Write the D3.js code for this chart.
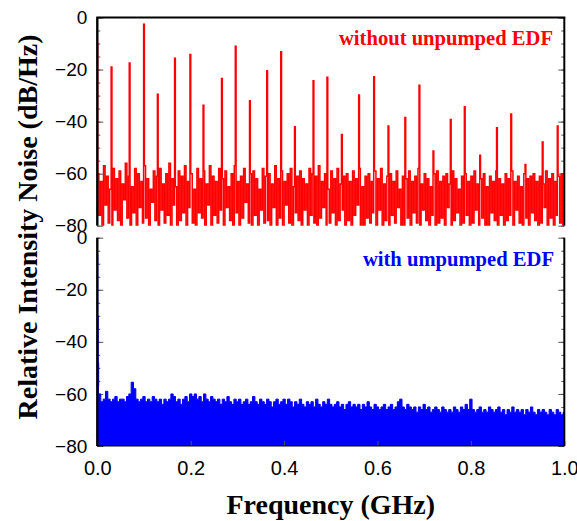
<!DOCTYPE html>
<html>
<head>
<meta charset="utf-8">
<script src="https://cdn.jsdelivr.net/npm/d3@7"></script>
<style>
  body { margin: 0; background: #fff; }
  svg { display: block; font-family: "Liberation Serif", "Times New Roman", serif; }
  .tick line { stroke: #555; }
  .domain { display: none; }
</style>
</head>
<body>
<div id="chart"></div>
<script>
// peaks of the top trace (without unpumped EDF), GHz / dB/Hz
const redPeakFreq = [0, 0.031, 0.0685, 0.100, 0.129, 0.166, 0.1985, 0.228, 0.267, 0.296, 0.327, 0.364, 0.394, 0.423, 0.4625, 0.492, 0.524, 0.561, 0.592, 0.6235, 0.659, 0.6895, 0.7195, 0.757, 0.787, 0.8195, 0.855, 0.886, 0.917, 0.954, 0.985]
const redPeakLevel = [-10, -19, -17.5, -2.6, -29.5, -15.7, -14.2, -33.7, -23.4, -11, -32, -20.5, -13.2, -42, -24.3, -23, -45, -29.8, -22.8, -41.7, -38.4, -26, -51.3, -39.2, -34.3, -52.9, -42.4, -37.1, -56.5, -47.8, -41.7]

// noise floor of the top trace, tops and bottoms
const redNoiseTop = [
  -60, -63, -57, -61, -66, -58, -62, -59, -64, -56,
  -61, -65, -58, -60, -63, -57, -62, -66, -59, -61,
  -58, -64, -60, -56, -62, -65, -59, -61, -57, -63,
  -60, -66, -58, -62, -59, -64, -57, -61, -63, -58,
  -62, -59, -65, -60, -57, -63, -61, -58, -64, -60,
  -59, -62, -66, -58, -61, -60, -64, -57, -62, -59,
  -63, -60, -58, -65, -61, -59, -62, -64, -58, -60,
  -61, -57, -63, -60, -66, -59, -62, -58, -64, -61,
  -60, -63, -59, -62, -58, -65, -61, -60, -63, -59,
  -62, -58, -64, -61, -60, -63, -59, -66, -61, -62,
  -59, -63, -61, -58, -64, -60, -62, -65, -60, -59,
  -63, -61, -60, -64, -59, -62, -66, -61, -60, -63,
  -61, -59, -64, -62, -60, -65, -61, -63, -59, -62,
  -64, -60, -62, -59, -63, -61, -65, -60, -62, -61,
  -60, -63, -61, -64, -59, -62, -60, -63, -61, -60
]
const redNoiseBottom = [
  -76, -80, -72, -79, -82, -74, -78, -81, -70, -77,
  -80, -75, -82, -73, -79, -77, -81, -71, -78, -83,
  -74, -79, -76, -82, -72, -80, -78, -75, -81, -73,
  -79, -83, -75, -77, -80, -72, -82, -76, -79, -74,
  -81, -73, -78, -80, -75, -82, -77, -71, -79, -80,
  -76, -82, -74, -79, -78, -81, -73, -80, -77, -83,
  -72, -79, -81, -75, -78, -80, -74, -82, -76, -79,
  -80, -77, -73, -81, -79, -75, -82, -78, -74, -80,
  -78, -81, -76, -72, -80, -83, -77, -79, -75, -81,
  -74, -80, -78, -82, -76, -79, -73, -81, -80, -77,
  -82, -75, -79, -80, -74, -78, -81, -76, -83, -79,
  -77, -80, -73, -81, -78, -75, -82, -79, -76, -80,
  -79, -74, -81, -77, -80, -83, -75, -78, -82, -76,
  -80, -78, -76, -81, -74, -79, -82, -77, -80, -75,
  -78, -81, -79, -73, -80, -77, -82, -76, -79, -81
]

// bottom trace (with unpumped EDF): sharp roll-off near 0, then noise envelope every 5 MHz
const blueHeadFreq = [0, 0.001, 0.002, 0.003]
const blueHeadLevel = [-6.5, -30, -48, -57]
const blueEnvelope = [
  -60, -63, -62, -59, -62, -63, -62, -61, -63, -62,
  -62, -63, -61, -60, -55.5, -58, -62, -63, -62, -61,
  -63, -62, -63, -61, -62, -63, -62, -64, -62, -63,
  -62, -60, -61, -63, -62, -64, -62, -61, -63, -60,
  -61, -60, -62, -61, -63, -60, -62, -63, -61, -62,
  -63, -62, -64, -62, -63, -61, -63, -64, -62, -63,
  -62, -64, -63, -62, -64, -63, -61, -63, -64, -62,
  -63, -64, -62, -63, -65, -63, -62, -64, -63, -62,
  -64, -62, -63, -65, -63, -64, -62, -64, -65, -63,
  -64, -63, -65, -62, -64, -65, -63, -64, -62, -64,
  -65, -64, -63, -65, -64, -66, -64, -63, -65, -64,
  -65, -64, -66, -64, -65, -63, -65, -66, -64, -65,
  -66, -65, -64, -66, -65, -64, -66, -65, -63, -62,
  -65, -66, -64, -65, -66, -65, -67, -65, -66, -64,
  -66, -65, -67, -66, -65, -66, -67, -65, -66, -67,
  -66, -67, -65, -66, -67, -65, -66, -64, -66, -62,
  -66, -67, -66, -65, -67, -66, -67, -65, -66, -67,
  -66, -65, -67, -66, -68, -66, -67, -65, -67, -66,
  -67, -66, -68, -66, -67, -65, -67, -68, -66, -67,
  -66, -67, -68, -66, -67, -68, -66, -67, -68, -67
]

const yTicks = [0, -20, -40, -60, -80]
const xTicks = [0, 0.2, 0.4, 0.6, 0.8, 1.0]

const width = 577, height = 521
const left = 97.3, right = 564.3
const topPanel = [17.5, 225.7], bottomPanel = [237.7, 446]

const svg = d3.select("#chart").append("svg")
    .attr("width", width)
    .attr("height", height)

var x = d3.scaleLinear().domain([0, 1]).range([left, right])

function panel(name, extent) {
    var y = d3.scaleLinear().domain([-80, 0]).range([extent[1], extent[0]])
    var g = svg.append("g")
    g.append("clipPath").attr("id", "clip_" + name)
        .append("rect")
        .attr("x", left).attr("y", extent[0])
        .attr("width", right - left).attr("height", extent[1] - extent[0])

    // minor ticks every 5 dB
    g.append("g").attr("transform", "translate(" + left + ",0)")
        .call(d3.axisLeft(y).tickValues(d3.range(-80, 1, 5)).tickSize(-3).tickFormat(""))
    g.append("g").attr("transform", "translate(" + right + ",0)")
        .call(d3.axisRight(y).tickValues(d3.range(-80, 1, 5)).tickSize(-3).tickFormat(""))
    g.append("g").attr("transform", "translate(" + left + ",0)")
        .call(d3.axisLeft(y).tickValues(yTicks).tickSize(-6).tickPadding(10).tickFormat(d3.format("d")))
        .call(s => s.selectAll("text").attr("font-size", 19).attr("fill", "#000"))
    g.append("g").attr("transform", "translate(" + right + ",0)")
        .call(d3.axisRight(y).tickValues(yTicks).tickSize(-6).tickFormat(""))
    return { g: g, y: y, clip: "url(#clip_" + name + ")" }
}

// ---- top panel
var p1 = panel("top", topPanel)
var redPts = []
redNoiseTop.forEach((v, i) => {
    redPts.push([(2 * i + 0.5) / 300, v])
    redPts.push([(2 * i + 1.5) / 300, redNoiseBottom[i]])
})
redPeakFreq.forEach((f, i) => redPts.push([f, redPeakLevel[i]]))
redPts.sort((a, b) => a[0] - b[0])

p1.g.append("path")
    .datum(redPts)
    .attr("clip-path", p1.clip)
    .attr("fill", "none")
    .attr("stroke", "#ff0000")
    .attr("stroke-width", 1.5)
    .attr("d", d3.line().x(d => x(d[0])).y(d => p1.y(d[1])).curve(d3.curveStep))

p1.g.append("text")
    .attr("x", 553).attr("y", 44.5)
    .attr("text-anchor", "end")
    .attr("font-size", 20.6).attr("font-weight", "bold")
    .attr("fill", "#ff0000")
    .text("without unpumped EDF")

// ---- bottom panel
var p2 = panel("bottom", bottomPanel)
var bluePts = blueHeadFreq.map((f, i) => [f, blueHeadLevel[i]])
blueEnvelope.forEach((v, i) => bluePts.push([0.005 * (i + 1) - 0.0025, v]))
bluePts.push([1.0, blueEnvelope[blueEnvelope.length - 1]])

p2.g.append("path")
    .datum(bluePts)
    .attr("clip-path", p2.clip)
    .attr("fill", "#0000ff")
    .attr("stroke", "#0000ff")
    .attr("stroke-width", 1)
    .attr("d", d3.area().x(d => x(d[0])).y0(p2.y(-80)).y1(d => p2.y(d[1])).curve(d3.curveStepAfter))

p2.g.append("text")
    .attr("x", 554).attr("y", 265.5)
    .attr("text-anchor", "end")
    .attr("font-size", 20.6).attr("font-weight", "bold")
    .attr("fill", "#0000ff")
    .text("with umpumped EDF")

// x axis
svg.append("g").attr("transform", "translate(0," + bottomPanel[1] + ")")
    .call(d3.axisBottom(x).tickValues(xTicks).tickSize(-5).tickPadding(15).tickFormat(d3.format(".1f")))
    .call(s => s.selectAll("text").attr("font-size", 20).attr("fill", "#000"))

// frame lines
svg.append("line").attr("x1", left - 1).attr("x2", right + 1).attr("y1", topPanel[0]).attr("y2", topPanel[0])
    .attr("stroke", "#000").attr("stroke-width", 2.2)
;[topPanel, bottomPanel].forEach(e => {
    svg.append("line").attr("x1", left).attr("x2", left).attr("y1", e[0]).attr("y2", e[1])
        .attr("stroke", "#000").attr("stroke-width", 2.4)
    svg.append("line").attr("x1", right).attr("x2", right).attr("y1", e[0]).attr("y2", e[1])
        .attr("stroke", "#000").attr("stroke-width", 2)
})
svg.append("line").attr("x1", left).attr("x2", right).attr("y1", bottomPanel[1]).attr("y2", bottomPanel[1])
    .attr("stroke", "#000").attr("stroke-width", 1)

// axis titles
svg.append("text")
    .attr("transform", "translate(37," + 227 + ") rotate(-90)")
    .attr("text-anchor", "middle")
    .attr("font-size", 28).attr("font-weight", "bold")
    .text("Relative Intensity Noise (dB/Hz)")

svg.append("text")
    .attr("x", (left + right) / 2).attr("y", 514)
    .attr("text-anchor", "middle")
    .attr("font-size", 28).attr("font-weight", "bold")
    .text("Frequency (GHz)")
</script>
</body>
</html>
